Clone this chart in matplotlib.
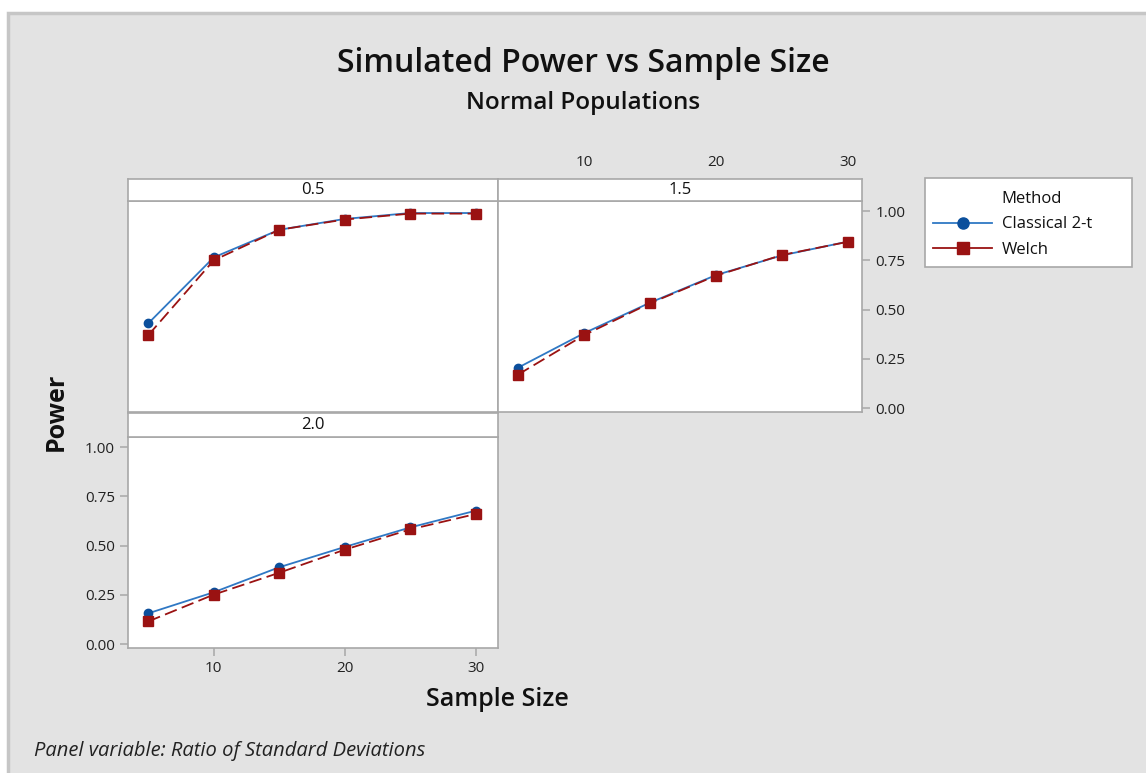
import numpy as np
import matplotlib
matplotlib.use('Agg')
import matplotlib.pyplot as plt
from matplotlib.patches import Rectangle
from matplotlib.lines import Line2D

plt.rcParams['font.family'] = ['Open Sans', 'DejaVu Sans']

# data
sample_size = [5, 10, 15, 20, 25, 30]
panels = ['0.5', '1.5', '2.0']
classical = {
    '0.5': [0.43, 0.765, 0.905, 0.96, 0.99, 0.99],
    '1.5': [0.205, 0.38, 0.535, 0.675, 0.775, 0.845],
    '2.0': [0.156, 0.263, 0.39, 0.493, 0.592, 0.677],
}
welch = {
    '0.5': [0.37, 0.75, 0.905, 0.957, 0.987, 0.987],
    '1.5': [0.17, 0.37, 0.532, 0.672, 0.777, 0.844],
    '2.0': [0.115, 0.251, 0.362, 0.479, 0.582, 0.66],
}
y_ticks = [0.0, 0.25, 0.5, 0.75, 1.0]
y_ticklabels = ['0.00', '0.25', '0.50', '0.75', '1.00']
x_ticks = [10, 20, 30]

W, H = 1146, 773
BG = '#e3e3e3'
FRAME = '#a8a8a8'
BLUE_LINE = '#2f78c4'
BLUE_MK = '#0b4f9c'
RED = '#9a1212'

fig = plt.figure(figsize=(W / 100, H / 100), dpi=100, facecolor='white')

# gray canvas with border on top/left only
fig.patches.append(Rectangle((8 / W, -0.1), 1.2, 1.1 - 13 / H, transform=fig.transFigure,
                             facecolor=BG, edgecolor='#c6c6c6', linewidth=2.5, zorder=-10))


def px_box(x0, y0, x1, y1):
    return [x0 / W, 1 - y1 / H, (x1 - x0) / W, (y1 - y0) / H]


def make_panel(name, box, strip_box, show):
    ax = fig.add_axes(px_box(*box))
    ax.set_facecolor('white')
    ax.plot(sample_size, welch[name], color=RED, linestyle=(0, (7, 3)), linewidth=1.3,
            marker='s', markersize=7.5, markerfacecolor=RED, markeredgecolor=RED, zorder=3)
    ax.plot(sample_size, classical[name], color=BLUE_LINE, linewidth=1.3,
            marker='o', markersize=6, markerfacecolor=BLUE_MK, markeredgecolor=BLUE_MK, zorder=2)
    ax.set_xlim(3.45, 31.7)
    ax.set_ylim(-0.02, 1.051)
    for sp in ax.spines.values():
        sp.set_color(FRAME)
        sp.set_linewidth(1.2)
    ax.set_xticks(x_ticks)
    ax.set_yticks(y_ticks)
    ax.set_yticklabels(y_ticklabels)
    ax.tick_params(colors=FRAME, labelcolor='#222222', labelsize=11, length=6, width=1.1)
    ax.tick_params(axis='both', which='both', bottom=False, top=False, left=False, right=False,
                   labelbottom=False, labeltop=False, labelleft=False, labelright=False)
    if show == 'topright':
        ax.tick_params(top=True, labeltop=True, right=True, labelright=True)
    elif show == 'bottomleft':
        ax.tick_params(bottom=True, labelbottom=True, left=True, labelleft=True)

    sax = fig.add_axes(px_box(*strip_box))
    sax.set_facecolor('white')
    sax.set_xticks([])
    sax.set_yticks([])
    for sp in sax.spines.values():
        sp.set_color(FRAME)
        sp.set_linewidth(1.2)
    sax.text(0.5, 0.5, name, ha='center', va='center', fontsize=12, color='#111111')
    return ax


ax1 = make_panel('0.5', (128, 201, 498, 412), (128, 179, 498, 201), 'none')
ax2 = make_panel('1.5', (498, 201, 862, 412), (498, 179, 862, 201), 'topright')
ax3 = make_panel('2.0', (128, 437, 498, 648), (128, 413, 498, 437), 'bottomleft')
ax2.set_xlim(3.48, 31.06)
ax2.tick_params(axis='x', pad=16)

# titles
fig.text(583 / W, 1 - 64 / H, 'Simulated Power vs Sample Size', ha='center', va='center',
         fontsize=23, fontweight='semibold', color='#111111')
fig.text(583 / W, 1 - 103 / H, 'Normal Populations', ha='center', va='center',
         fontsize=17.5, fontweight='semibold', color='#111111')
fig.text(56 / W, 1 - 412 / H, 'Power', ha='center', va='center', rotation=90,
         fontsize=18, fontweight='bold', color='#111111')
fig.text(497 / W, 1 - 700 / H, 'Sample Size', ha='center', va='center',
         fontsize=18, fontweight='semibold', color='#111111')
fig.text(34 / W, 1 - 751 / H, 'Panel variable: Ratio of Standard Deviations', ha='left',
         va='center', fontsize=14.5, fontstyle='italic', color='#222222')

# legend box drawn separately (it is wider than its contents)
fig.patches.append(Rectangle((925 / W, 1 - 267 / H), 207 / W, 89 / H, transform=fig.transFigure,
                             facecolor='white', edgecolor=FRAME, linewidth=1.2, zorder=5))

# "Method" as a handle-less first row so it lines up with the labels
handles = [
    Line2D([], [], linestyle='none'),
    Line2D([], [], color=BLUE_LINE, linewidth=1.3, marker='o', markersize=8,
           markerfacecolor=BLUE_MK, markeredgecolor=BLUE_MK),
    Line2D([], [], color=RED, linewidth=1.3, marker='s', markersize=8.5,
           markerfacecolor=RED, markeredgecolor=RED),
]
leg = fig.legend(handles, ['Method', 'Classical 2-t', 'Welch'],
                 loc='upper left', bbox_to_anchor=(930 / W, 1 - 188 / H),
                 frameon=False, fontsize=12,
                 handlelength=3.5, handletextpad=0.6, borderpad=0.2, labelspacing=0.55,
                 borderaxespad=0)
leg.set_zorder(6)
for t in leg.get_texts():
    t.set_color('#111111')

fig.savefig('out.png', dpi=100, facecolor=fig.get_facecolor())
